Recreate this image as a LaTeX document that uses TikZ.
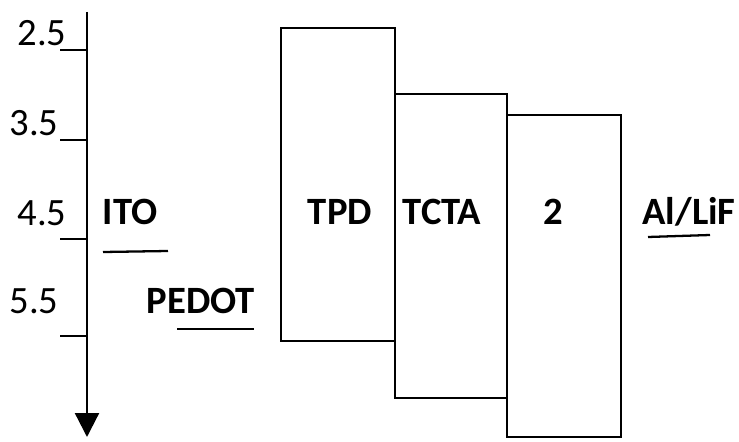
\documentclass[tikz,border=0pt]{standalone}
\usepackage{fontspec}
\setmainfont{Carlito}
\usetikzlibrary{arrows.meta}

\begin{document}
\begin{tikzpicture}[x=0.02cm, y=-0.02cm, >={Triangle[length=0.48cm, width=0.48cm]},
    layer/.style={draw, line width=1.6pt},
    level/.style={line width=1.3pt},
    tag/.style={font=\bfseries\fontsize{22}{26}\selectfont, inner sep=0pt},
    ev/.style={font=\fontsize{22}{26}\selectfont, inner sep=0pt}]
    \useasboundingbox (0,0) rectangle (739,442);
    % energy axis
    \coordinate (top) at (87,12);
    \coordinate (bottom) at (87,437);
    \draw[->, level] (top) -- (bottom);
    \node[ev] (v25) at (42,33) {2.5};
    \node[ev] (v35) at (34,123) {3.5};
    \node[ev] (v45) at (42,213) {4.5};
    \node[ev] (v55) at (34,301) {5.5};
    \draw[level] (60,50) -- (87,50);
    \draw[level] (60,140) -- (87,140);
    \draw[level] (60,239) -- (87,239);
    \draw[level] (60,336) -- (87,336);
    % electrodes
    \node[tag] (ito) at (130,212) {ITO};
    \draw[level] (103,252) -- (168,251);
    \node[tag] (pedot) at (201,301) {PEDOT};
    \draw[level] (177,329) -- (254,329);
    \node[tag] (alif) at (689,212) {Al/LiF};
    \draw[level] (648,237) -- (710,235);
    % organic layers
    \draw[layer] (281,28) rectangle (395,341);
    \draw[layer] (395,94) rectangle (507,398);
    \draw[layer] (507,115) rectangle (621,437);
    \node[tag] (tpd) at (340,212) {TPD};
    \node[tag] (tcta) at (442,212) {TCTA};
    \node[tag] (emit) at (553,212) {2};
\end{tikzpicture}
\end{document}
